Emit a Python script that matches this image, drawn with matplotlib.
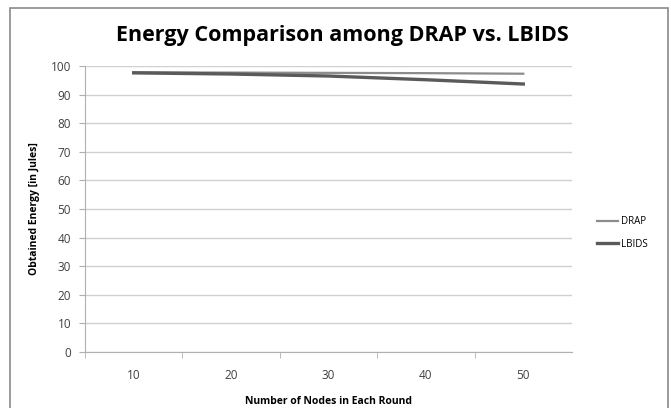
import matplotlib
matplotlib.use("Agg")
import matplotlib.pyplot as plt
from matplotlib.lines import Line2D

nodes = [10, 20, 30, 40, 50]
drap = [97.8, 97.7, 97.6, 97.5, 97.3]
lbids = [97.6, 97.2, 96.5, 95.2, 93.7]

plt.rcParams["font.family"] = ["Open Sans", "DejaVu Sans"]

fig = plt.figure(figsize=(6.71, 4.08), dpi=100)
ax = fig.add_axes([85 / 671, 1 - 352 / 408, (572 - 85) / 671, (352 - 66) / 408])

x = list(range(1, len(nodes) + 1))
ax.plot(x, drap, color="#8c8c8c", lw=1.6, label="DRAP")
ax.plot(x, lbids, color="#5a5a5a", lw=2.4, label="LBIDS")

ax.set_xlim(0.5, len(nodes) + 0.5)
ax.set_ylim(0, 100)
ax.set_yticks(range(0, 101, 10))
ax.set_xticks(x)
ax.set_xticklabels([str(n) for n in nodes])
ax.set_xticks([i + 0.5 for i in range(len(nodes))], minor=True)
ax.tick_params(axis="x", which="major", length=0, pad=12, labelsize=8.5, labelcolor="#404040")
ax.tick_params(axis="x", which="minor", length=4, color="#b0b0b0", direction="out")
ax.tick_params(axis="y", length=4, color="#b0b0b0", labelsize=8.5, labelcolor="#404040", pad=6)

ax.grid(axis="y", color="#d0d0d0", lw=1)
ax.set_axisbelow(True)
for s in ["top", "right"]:
    ax.spines[s].set_visible(False)
for s in ["left", "bottom"]:
    ax.spines[s].set_color("#b0b0b0")

ax.set_xlabel("Number of Nodes in Each Round", fontsize=7.5, fontweight="bold", labelpad=10)
ax.set_ylabel("Obtained Energy [in Jules]", fontsize=7.5, fontweight="bold", labelpad=8)
fig.suptitle("Energy Comparison among DRAP vs. LBIDS", fontsize=15.5, fontweight="bold",
             x=(341 + 1) / 671, y=1 - 36 / 408, va="center")

handles = [Line2D([], [], color="#8c8c8c", lw=1.6), Line2D([], [], color="#5a5a5a", lw=2.4)]
fig.legend(handles, ["DRAP", "LBIDS"], loc="center left", bbox_to_anchor=(588 / 671, 1 - 233 / 408),
           frameon=False, fontsize=7, handlelength=2.2, handletextpad=0.3, labelspacing=1.2)

fig.add_artist(plt.Rectangle((10 / 671, -0.05), (668 - 10) / 671, 1.05 - 8 / 408,
                             transform=fig.transFigure, fill=False, edgecolor="#8a8a8a", lw=1.2))

fig.savefig("out.png", dpi=100)
